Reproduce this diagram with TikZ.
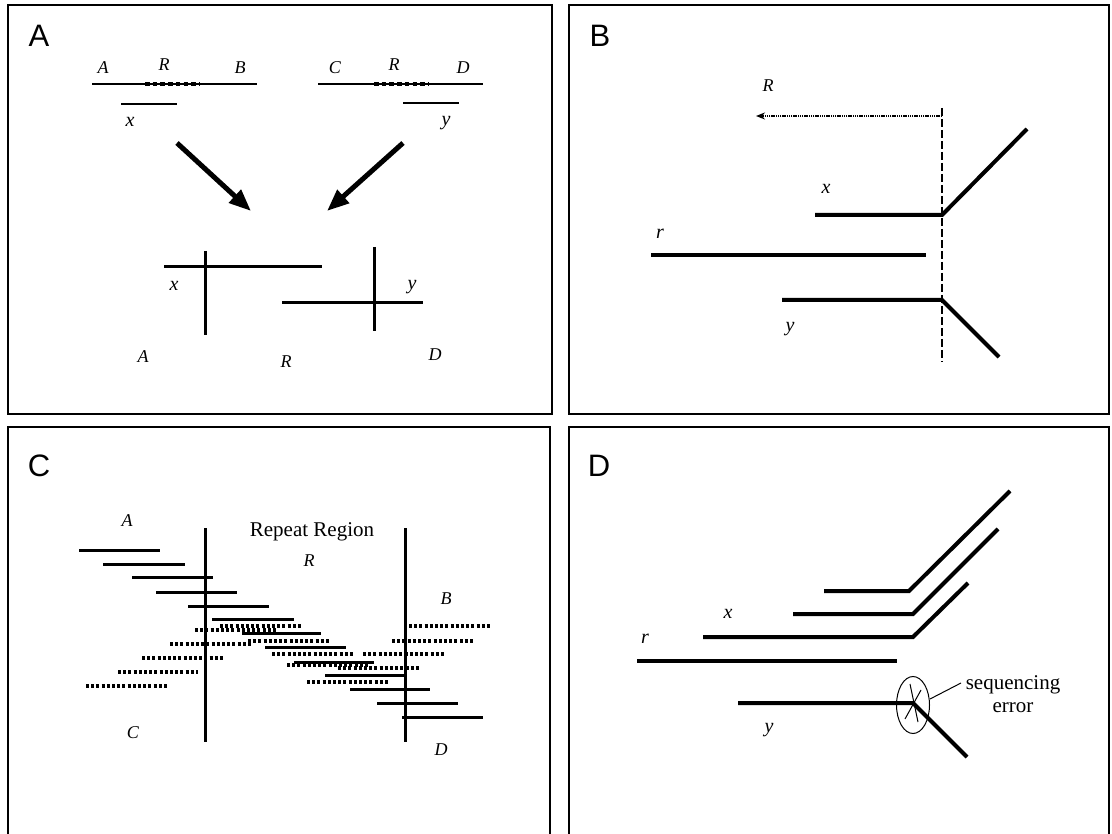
\documentclass[tikz,border=0pt]{standalone}
\usepackage{fontspec}
\setmainfont{Liberation Serif}
\setsansfont{Liberation Sans}
\usetikzlibrary{arrows.meta,shapes.geometric}
\tikzset{
  panelbox/.style={line width=1.8pt},
  thinln/.style={line width=1.4pt},
  midln/.style={line width=3pt},
  fatln/.style={line width=4pt},
  dotln/.style={line width=3.2pt, dash pattern=on 3pt off 2.2pt},
  repdots/.style={line width=4.5pt, dash pattern=on 4.5pt off 3.2pt},
  bigarrow/.style={line width=5pt, -{Triangle[length=22pt,width=17pt]}},
  lbl/.style={inner sep=0pt, font=\fontsize{18}{18}\selectfont\itshape},
  lcl/.style={inner sep=0pt, font=\fontsize{20}{20}\selectfont\itshape},
  panellbl/.style={inner sep=0pt, font=\fontsize{31}{31}\selectfont\sffamily},
  plain/.style={inner sep=0pt, font=\fontsize{21}{23}\selectfont, align=center}
}
\begin{document}
\begin{tikzpicture}[x=1pt,y=-1pt]
\useasboundingbox (0,0) rectangle (1112,834);
\fill[white] (0,0) rectangle (1112,834);
% panel frames
\draw[panelbox] (8,5) rectangle (552,414);
\draw[panelbox] (569,5) rectangle (1109,414);
\draw[panelbox] (8,840) -- (8,427) -- (550,427) -- (550,840);
\draw[panelbox] (569,840) -- (569,427) -- (1109,427) -- (1109,840);
\node[panellbl] (pA) at (39,36) {A};
\node[panellbl] (pB) at (600,36) {B};
\node[panellbl] (pC) at (39,466) {C};
\node[panellbl] (pD) at (599,466) {D};

% ---------------- Panel A ----------------
\draw[thinln] (92,84) -- (257,84);
\draw[repdots] (145,84) -- (199,84);
\node[lbl] (aA) at (103,68) {A};
\node[lbl] (aR) at (164,65) {R};
\node[lbl] (aB) at (240,68) {B};
\draw[thinln] (121,104) -- (177,104);
\node[lcl] (ax) at (130,122) {x};
\draw[thinln] (318,84) -- (483,84);
\draw[repdots] (374,84) -- (428,84);
\node[lbl] (aC) at (335,68) {C};
\node[lbl] (aR2) at (394,65) {R};
\node[lbl] (aD) at (463,68) {D};
\draw[thinln] (403,103) -- (459,103);
\node[lcl] (ay) at (446,123) {y};
\coordinate (a1s) at (177,143); \coordinate (a1e) at (251,211);
\coordinate (a2s) at (403,143); \coordinate (a2e) at (327,211);
\draw[bigarrow] (a1s) -- (a1e);
\draw[bigarrow] (a2s) -- (a2e);
\draw[midln] (164,267) -- (322,267);
\draw[midln] (205,251) -- (205,335);
\node[lcl] (ax2) at (174,286) {x};
\draw[midln] (282,303) -- (423,303);
\draw[midln] (374,247) -- (374,331);
\node[lcl] (ay2) at (412,287) {y};
\node[lbl] (aA2) at (143,357) {A};
\node[lbl] (aR3) at (286,362) {R};
\node[lbl] (aD2) at (435,355) {D};

% ---------------- Panel B ----------------
\node[lbl] (bR) at (768,86) {R};
\coordinate (bv1) at (942,108); \coordinate (bv2) at (942,362);
\draw[line width=1.2pt, dash pattern=on 8pt off 3pt] (bv1) -- (bv2);
\coordinate (bas) at (942,116); \coordinate (bae) at (756,116);
\draw[line width=1.6pt, dash pattern=on 1.4pt off 0.8pt, -{Stealth[length=9pt,width=7pt]}] (bas) -- (bae);
\draw[fatln] (815,215) -- (942,215) -- (1027,129);
\node[lcl] (bx) at (826,189) {x};
\draw[fatln] (651,255) -- (926,255);
\node[lcl] (br) at (660,234) {r};
\draw[fatln] (782,300) -- (942,300) -- (999,357);
\node[lcl] (by) at (790,329) {y};

% ---------------- Panel C ----------------
\node[lbl] (cA) at (127,521) {A};
\node[plain] (cRR) at (312,532) {Repeat Region};
\node[lbl] (cR) at (309,561) {R};
\node[lbl] (cB) at (446,599) {B};
\node[lbl] (cC) at (133,733) {C};
\node[lbl] (cD) at (441,750) {D};
\draw[midln] (205,528) -- (205,742);
\draw[midln] (405,528) -- (405,742);
% solid reads
\foreach \xa/\xb/\yy in {79/160/550, 103/185/564, 132/213/577, 156/237/592, 188/269/606,
  212/294/619, 242/321/633, 265/346/647, 294/374/662, 325/405/675, 350/430/689,
  377/458/703, 402/483/717}
  \draw[midln] (\xa,\yy) -- (\xb,\yy);
% dotted reads
\foreach \xa/\xb/\yy in {86/168/686, 118/198/672, 142/223/658, 170/252/644, 195/276/630,
  220/301/626, 248/329/641, 272/354/654, 287/368/665, 307/388/682, 338/419/668,
  363/445/654, 392/473/641, 409/490/626}
  \draw[dotln] (\xa,\yy) -- (\xb,\yy);

% ---------------- Panel D ----------------
\draw[fatln] (824,591) -- (909,591) -- (1010,491);
\draw[fatln] (793,614) -- (913,614) -- (998,529);
\draw[fatln] (703,637) -- (913,637) -- (968,583);
\node[lcl] (dx) at (728,614) {x};
\draw[fatln] (637,661) -- (897,661);
\node[lcl] (dr) at (645,639) {r};
\coordinate (dk) at (913,703);
\draw[fatln] (738,703) -- (dk) -- (967,757);
\node[lcl] (dy) at (769,730) {y};
\node[draw, line width=1pt, ellipse, minimum width=33pt, minimum height=57pt, inner sep=0pt] (ell) at (913,705) {};
\draw[line width=1pt] (910,684) -- (918,722);
\draw[line width=1pt] (905,719) -- (921,690);
\node[plain] (err) at (1013,694) {sequencing\\error};
\coordinate (lead) at (961,683);
\draw[line width=1pt] (ell.east) ++(0,-6) -- (lead);
\end{tikzpicture}
\end{document}
